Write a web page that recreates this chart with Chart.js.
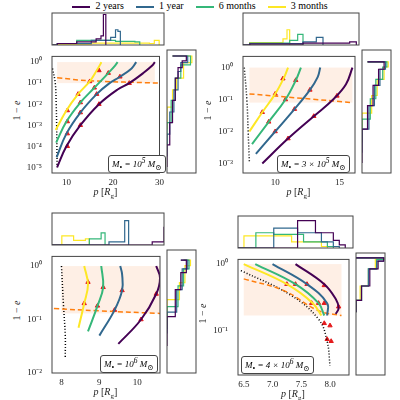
<!DOCTYPE html>
<html><head><meta charset="utf-8">
<script src="https://cdn.jsdelivr.net/npm/chart.js@4/dist/chart.umd.min.js"></script>
<style>
html,body{margin:0;padding:0}
body{width:400px;height:400px;position:relative;background:#fff;font-family:"Liberation Serif","DejaVu Serif",serif;overflow:hidden}
.holder{position:absolute}
.t{position:absolute;font-size:10px;color:#222;white-space:nowrap}
.box{position:absolute;font-size:9px;border:1px solid #444;border-radius:3px;padding:0 3px;background:#fff;white-space:nowrap}
.leg{position:absolute;top:0;left:0;width:400px;text-align:center;font-size:10px}
.leg span{display:inline-block;margin:0 6px}
.leg i{display:inline-block;width:18px;height:2px;vertical-align:middle;margin-right:5px}
</style></head><body>
<div class="leg"><span><i style="background:#440154"></i>2 years</span><span><i style="background:#31688e"></i>1 year</span><span><i style="background:#35b779"></i>6 months</span><span><i style="background:#fde725"></i>3 months</span></div>
<script>
const colors = ['#440154', '#31688e', '#35b779', '#fde725']
const p1Curves = [
  [[8,1e-5],[10,1e-4],[13,1e-3],[17,1e-2],[21,0.05],[23.5,0.1],[26.5,0.3],[28.5,0.7],[29,1]],
  [[7.9,3e-5],[10,4e-4],[13,4e-3],[16.5,0.03],[19,0.09],[21.5,0.2],[24,0.5],[25,1]],
  [[7.8,1.5e-4],[10,1.5e-3],[13,0.012],[16,0.06],[19,0.3],[20.5,0.7],[21,1]],
  [[7.7,6e-4],[10,5e-3],[12.5,0.03],[15,0.12],[16.5,0.4],[17.3,0.8],[17.5,1]],
]
const p1Marks = [[10.2,1e-4],[13,1e-3],[17,1e-2],[23.5,0.1],[10.2,4e-4],[13,4e-3],[16.5,0.03],[21.5,0.2],[10.2,1.5e-3],[13,0.012],[16,0.06],[19,0.3],[10.2,5e-3],[12.5,0.03],[15,0.12],[17,0.4]]
const p1Dashed = [[8,0.18],[15,0.13],[30,0.1]]
const p1Dotted = [[7,0.5],[7.6,0.1],[7.8,1e-2],[7.9,1e-3],[8,1e-5]]
const p1Top = [
  [[7,0],[8,0.05],[12,0.1],[16,0.2],[17,0.3],[17.5,1],[18,0]],
  [[7,0],[8,0.05],[15,0.15],[19,0.25],[20,0.5],[20.5,0.45],[21,0]],
  [[7,0],[8,0.05],[12,0.15],[20,0.12],[24,0.1],[25,0]],
  [[7,0],[8,0.03],[15,0.06],[27,0.05],[28,0.15],[29,0]],
]
const p1Right = [
  [[0,1e-5],[0.1,1e-4],[0.2,1e-3],[0.3,1e-2],[0.4,0.1],[0.55,0.3],[0.7,0.6],[0.2,1]],
  [[0,3e-5],[0.1,3e-4],[0.25,3e-3],[0.4,0.03],[0.5,0.2],[0.75,0.5],[0.2,1]],
  [[0,1e-4],[0.15,1e-3],[0.3,0.01],[0.5,0.1],[0.85,0.4],[0.2,1]],
  [[0,5e-4],[0.2,5e-3],[0.35,0.03],[0.6,0.1],[0.9,0.5],[0.2,1]],
]
const p2Curves = [
  [[9,1e-3],[11,6e-3],[13,0.03],[14.5,0.1],[15.5,0.3],[16,1]],
  [[8.5,2e-3],[10,0.01],[11.5,0.05],[12.7,0.2],[13.3,0.5],[13.5,1]],
  [[8.2,4e-3],[9.5,0.02],[10.8,0.1],[11.6,0.4],[12,1]],
  [[8,0.01],[9,0.04],[10,0.15],[10.7,0.5],[11,1]],
]
const p2Marks = [[11,6e-3],[13,0.03],[14.8,0.13],[10,0.01],[11.5,0.05],[12.7,0.2],[9.5,0.02],[10.8,0.1],[11.6,0.4],[9,0.04],[10,0.15],[10.6,0.45]]
const p2Dashed = [[8,0.15],[12,0.11],[16,0.08]]
const p2Dotted = [[7.6,1],[7.8,0.1],[7.9,0.01],[8,1e-3]]
const p2Top = [
  [[7.5,0],[8,0.03],[12,0.06],[15.5,0.1],[16,0]],
  [[7.5,0],[8,0.05],[12,0.1],[13,0.25],[13.5,0]],
  [[7.5,0],[8,0.06],[11,0.15],[11.6,0.35],[12,0]],
  [[7.5,0],[8,0.08],[10.5,0.2],[10.8,0.5],[11,0]],
]
const p2Right = [
  [[0,1e-3],[0.2,0.01],[0.4,0.05],[0.6,0.2],[0.8,0.6],[0.2,1]],
  [[0,2e-3],[0.25,0.01],[0.45,0.05],[0.65,0.2],[0.85,0.6],[0.2,1]],
  [[0,4e-3],[0.3,0.02],[0.5,0.08],[0.75,0.3],[0.9,0.7],[0.2,1]],
  [[0,0.01],[0.35,0.03],[0.55,0.1],[0.8,0.3],[0.95,0.7],[0.2,1]],
]
const p3Curves = [
  [[9.5,0.035],[10.1,0.1],[10.5,0.3],[10.6,0.6],[10.5,1]],
  [[9,0.05],[9.4,0.15],[9.6,0.35],[9.6,0.7],[9.55,1]],
  [[8.7,0.06],[8.95,0.18],[9.1,0.4],[9.05,1]],
  [[8.45,0.07],[8.6,0.2],[8.7,0.45],[8.6,1]],
]
const p3Marks = [[10.1,0.1],[10.5,0.3],[9.4,0.15],[9.6,0.35],[8.95,0.18],[9.1,0.4],[8.6,0.2],[8.7,0.5]]
const p3Dashed = [[7.8,0.16],[9,0.145],[10.6,0.13]]
const p3Dotted = [[8,1],[8.05,0.2],[8.1,0.05],[8.1,0.02]]
const p3Top = [
  [[7.75,0],[10.3,0.1],[10.6,0.6],[10.7,0]],
  [[7.75,0],[9.2,0.1],[9.6,0.8],[9.7,0]],
  [[7.75,0],[8.7,0.2],[9,0.4],[9.1,0]],
  [[7.75,0],[8,0.3],[8.3,0.15],[8.6,0.2],[8.7,0]],
]
const p3Right = [
  [[0,0.03],[0.3,0.1],[0.5,0.3],[0.7,0.6],[0.5,1]],
  [[0,0.05],[0.35,0.12],[0.55,0.3],[0.75,0.7],[0.5,1]],
  [[0,0.06],[0.4,0.15],[0.6,0.35],[0.8,0.7],[0.6,1]],
  [[0,0.07],[0.45,0.2],[0.65,0.4],[0.85,0.8],[0.6,1]],
]
const p4Curves = [
  [[7.4,1],[7.9,0.5],[8.1,0.3],[8.15,0.22],[8.1,0.18]],
  [[7.0,1],[7.6,0.5],[7.95,0.26],[7.95,0.17]],
  [[6.7,1],[7.4,0.5],[7.8,0.26],[7.9,0.17]],
  [[6.5,1],[7.25,0.5],[7.7,0.26],[7.85,0.17]],
]
const p4Marks = [[7.9,0.48],[8.15,0.23],[7.6,0.5],[7.9,0.26],[7.4,0.5],[7.8,0.26],[7.25,0.5],[7.68,0.26],[7.9,0.13],[8.0,0.12],[7.95,0.075],[8.02,0.07]]
const p4Dashed = [[6.5,0.6],[7.2,0.4],[7.8,0.2],[8.2,0.17]]
const p4Dotted = [[6.45,0.8],[7.3,0.35],[7.8,0.15],[7.95,0.07],[8.0,0.03]]
const p4Top = [
  [[6.4,0],[7.4,0.9],[7.7,0.5],[8.0,0.25],[8.1,0.1],[8.2,0]],
  [[6.4,0],[7.0,0.65],[7.4,0.5],[7.8,0.2],[8.0,0.05],[8.1,0]],
  [[6.4,0],[6.7,0.5],[7.0,0.45],[7.5,0.2],[7.9,0.05],[8.0,0]],
  [[6.4,0],[6.5,0.4],[6.8,0.4],[7.3,0.2],[7.8,0.05],[7.9,0]],
]
const p4Right = [
  [[0,0.17],[0.2,0.25],[0.5,0.4],[0.8,0.7],[1,0.9],[0,1]],
  [[0,0.17],[0.2,0.25],[0.45,0.4],[0.75,0.7],[1,0.9],[0,1]],
  [[0,0.17],[0.2,0.25],[0.45,0.4],[0.75,0.7],[1,0.95],[0,1]],
  [[0,0.17],[0.15,0.25],[0.45,0.4],[0.7,0.7],[1,0.95],[0,1]],
]

const panels = [
  { left: 52, top: 50, w: 111, h: 122, xmin: 6.9, xmax: 30, ymin: -5.27, ymax: 0.27, xticks: [10, 20, 30], box: [8, 29, 0.1, 1],
    curves: p1Curves, marks: p1Marks, dashed: p1Dashed, dotted: p1Dotted, histTop: p1Top, histRight: p1Right, label: 'M<sub>•</sub> = 10<sup>5</sup> M<sub>⊙</sub>', lx: 108, ly: 155 },
  { left: 243, top: 50, w: 115, h: 122, xmin: 7.5, xmax: 16.2, ymin: -3.3, ymax: 0.35, xticks: [10, 15], box: [8, 16, 0.08, 1],
    curves: p2Curves, marks: p2Marks, dashed: p2Dashed, dotted: p2Dotted, histTop: p2Top, histRight: p2Right, label: 'M<sub>•</sub> = 3 × 10<sup>5</sup> M<sub>⊙</sub>', lx: 277, ly: 155 },
  { left: 52, top: 250, w: 111, h: 122, xmin: 7.75, xmax: 10.6, ymin: -2.0, ymax: 0.18, xticks: [8, 9, 10], box: [8, 10.6, 0.13, 1],
    curves: p3Curves, marks: p3Marks, dashed: p3Dashed, dotted: p3Dotted, histTop: p3Top, histRight: p3Right, label: 'M<sub>•</sub> = 10<sup>6</sup> M<sub>⊙</sub>', lx: 100, ly: 355 },
  { left: 238, top: 253, w: 114, h: 121, xmin: 6.4, xmax: 8.33, ymin: -1.66, ymax: 0.07, xticks: [6.5, 7.0, 7.5, 8.0], box: [6.5, 8.2, 0.17, 1],
    curves: p4Curves, marks: p4Marks, dashed: p4Dashed, dotted: p4Dotted, histTop: p4Top, histRight: p4Right, label: 'M<sub>•</sub> = 4 × 10<sup>6</sup> M<sub>⊙</sub>', lx: 241, ly: 356 },
]

const sup = { '0': '⁰', '1': '¹', '2': '²', '3': '³', '4': '⁴', '5': '⁵', '-': '⁻' }
const font = { family: 'Liberation Serif', size: 9 }
const YW = 30, XH = 18

const boxPlugin = {
  id: 'shade',
  beforeDatasetsDraw(chart) {
    const b = chart.options.plugins.shade.box
    if (!b) return
    const { ctx, scales: { x, y } } = chart
    ctx.save()
    ctx.fillStyle = 'rgba(253,208,180,0.35)'
    const x0 = x.getPixelForValue(b[0]), x1 = x.getPixelForValue(b[1])
    const y0 = y.getPixelForValue(b[3]), y1 = y.getPixelForValue(b[2])
    ctx.fillRect(x0, y0, x1 - x0, y1 - y0)
    ctx.restore()
  },
}
const framePlugin = {
  id: 'frame',
  afterDraw(chart) {
    const { ctx, chartArea: a } = chart
    ctx.save()
    ctx.strokeStyle = '#444'
    ctx.lineWidth = 1
    ctx.strokeRect(a.left, a.top, a.right - a.left, a.bottom - a.top)
    ctx.restore()
  },
}

function canvasAt(l, t, w, h) {
  const d = document.createElement('div')
  d.className = 'holder'
  d.style.left = l + 'px'
  d.style.top = t + 'px'
  d.style.width = w + 'px'
  d.style.height = h + 'px'
  const c = document.createElement('canvas')
  d.appendChild(c)
  document.body.appendChild(d)
  return c
}
const pts = (arr) => arr.map(([x, y]) => ({ x, y }))
const noBorder = { display: false }
const base = { responsive: true, maintainAspectRatio: false, animation: false }
const hidden = { display: false }

panels.forEach((p) => {
  const c = canvasAt(p.left - YW, p.top - 1, p.w + YW + 2, p.h + XH + 2)
  const ds = []
  p.curves.forEach((cv, i) => ds.push({ data: pts(cv), borderColor: colors[i], borderWidth: 2, tension: 0.4, pointRadius: 0 }))
  ds.push({ data: pts(p.dashed), borderColor: '#ff7f0e', borderDash: [5, 3], borderWidth: 1.5, tension: 0.4, pointRadius: 0 })
  ds.push({ data: pts(p.dotted), borderColor: '#000', borderDash: [1, 2], borderWidth: 1.5, tension: 0.4, pointRadius: 0 })
  ds.push({ data: pts(p.marks), showLine: false, pointStyle: 'triangle', pointRadius: 2.5, backgroundColor: '#e41a1c', borderColor: '#e41a1c' })
  new Chart(c, {
    type: 'scatter',
    data: { datasets: ds.map((d) => ({ showLine: true, ...d })) },
    plugins: [boxPlugin, framePlugin],
    options: {
      ...base,
      layout: { padding: { right: 1, top: 1 } },
      plugins: { legend: hidden, tooltip: { enabled: false }, shade: { box: p.box } },
      scales: {
        x: {
          type: 'linear', min: p.xmin, max: p.xmax, grid: { display: false, drawTicks: true, tickLength: 3 }, border: noBorder,
          afterBuildTicks: (s) => { s.ticks = p.xticks.map((v) => ({ value: v })) },
          afterFit: (s) => { s.height = XH },
          ticks: { font, color: '#222', padding: 1, maxRotation: 0, autoSkip: false, callback: (v) => (p.xticks.some((t) => t % 1) ? v.toFixed(1) : v) },
        },
        y: {
          type: 'logarithmic', min: Math.pow(10, p.ymin), max: Math.pow(10, p.ymax), grid: { display: false }, border: noBorder,
          afterBuildTicks: (s) => {
            const t = []
            for (let e = Math.ceil(p.ymin); e <= Math.floor(p.ymax); e++) t.push({ value: Math.pow(10, e) })
            s.ticks = t
          },
          afterFit: (s) => { s.width = YW },
          ticks: { font, color: '#222', padding: 2, autoSkip: false, callback: (v) => '10' + String(Math.round(Math.log10(v))).split('').map((ch) => sup[ch]).join('') },
        },
      },
    },
  })

  const ct = canvasAt(p.left - 1, p.top - 38, p.w + 3, 34)
  new Chart(ct, {
    type: 'scatter',
    data: { datasets: p.histTop.map((h, i) => ({ data: pts(h), showLine: true, stepped: 'before', borderColor: colors[i], borderWidth: 1.2, pointRadius: 0 })) },
    plugins: [framePlugin],
    options: {
      ...base,
      layout: { padding: 1 },
      plugins: { legend: hidden, tooltip: { enabled: false } },
      scales: {
        x: { min: p.xmin, max: p.xmax, display: false },
        y: { min: 0, max: 1.05, display: false },
      },
    },
  })
  const cr = canvasAt(p.left + p.w + 3, p.top - 1, 31, p.h + 3)
  new Chart(cr, {
    type: 'scatter',
    data: { datasets: p.histRight.map((h, i) => ({ data: pts(h), showLine: true, stepped: 'after', borderColor: colors[i], borderWidth: 1.2, pointRadius: 0 })) },
    plugins: [framePlugin],
    options: {
      ...base,
      layout: { padding: 1 },
      plugins: { legend: hidden, tooltip: { enabled: false } },
      scales: {
        x: { min: 0, max: 1.05, display: false },
        y: { type: 'logarithmic', min: Math.pow(10, p.ymin), max: Math.pow(10, p.ymax), display: false },
      },
    },
  })

  const lab = document.createElement('div')
  lab.className = 'box'; lab.style.left = p.lx + 'px'; lab.style.top = p.ly + 'px'
  lab.innerHTML = '<i>' + p.label + '</i>'
  document.body.appendChild(lab)
  const xl = document.createElement('div')
  xl.className = 't'; xl.style.left = (p.left + p.w / 2 - 14) + 'px'; xl.style.top = (p.top + p.h + 14) + 'px'
  xl.innerHTML = '<i>p</i> [<i>R</i><sub style="font-size:7px">g</sub>]'
  document.body.appendChild(xl)
  const yl = document.createElement('div')
  yl.className = 't'; yl.style.left = (p.left - 46) + 'px'; yl.style.top = (p.top + p.h / 2 - 6) + 'px'
  yl.style.transform = 'rotate(-90deg)'
  yl.innerHTML = '1 − <i>e</i>'
  document.body.appendChild(yl)
})
</script>
</body></html>
